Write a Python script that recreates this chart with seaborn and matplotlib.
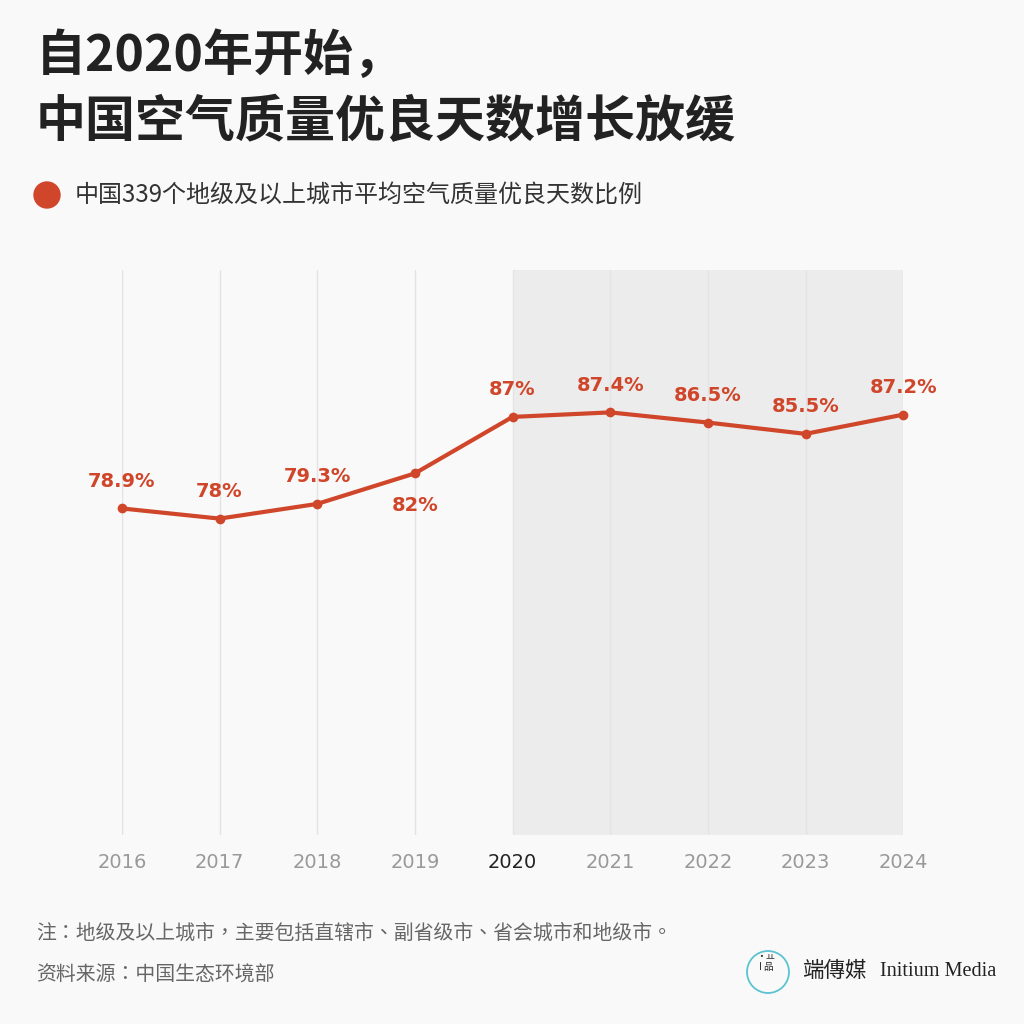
import pandas as pd
import seaborn as sns
import matplotlib.pyplot as plt
from matplotlib.patches import Circle

years = [2016, 2017, 2018, 2019, 2020, 2021, 2022, 2023, 2024]
ratio = [78.9, 78.0, 79.3, 82.0, 87.0, 87.4, 86.5, 85.5, 87.2]
labels = ["78.9%", "78%", "79.3%", "82%", "87%", "87.4%", "86.5%", "85.5%", "87.2%"]
below = [False, False, False, True, False, False, False, False, False]

df = pd.DataFrame({"year": years, "ratio": ratio})

sns.set_theme(style="white")
plt.rcParams["font.family"] = ["Noto Sans CJK SC", "DejaVu Sans"]

red = "#d0462a"
bg = "#f9f9f9"
tc = ["Noto Sans CJK TC", "DejaVu Sans"]

fig = plt.figure(figsize=(10.24, 10.24), dpi=100, facecolor=bg)
ax = fig.add_axes([0.119, 0.1846, 0.763, 0.5517])
ax.set_facecolor(bg)

# shaded period from 2020
ax.axvspan(2020, 2024, color="#ececec", zorder=0, lw=0)
for y in years:
    ax.axvline(y, color="#e3e3e3", lw=1, zorder=1)

sns.lineplot(data=df, x="year", y="ratio", color=red, lw=3, marker="o",
             markersize=7, markeredgewidth=0, ax=ax, zorder=3, clip_on=False)

for x, v, t, b in zip(years, ratio, labels, below):
    ax.annotate(t, (x, v), xytext=(0, -32 if b else 27), textcoords="offset pixels",
                ha="center", va="center", color=red, fontsize=14,
                fontweight="bold", family="DejaVu Sans")

ax.set_xlim(2016, 2024)
ax.set_ylim(50, 100)
ax.set_yticks([])
ax.set_xticks(years)
ax.set_xticklabels([str(y) for y in years], fontsize=14, family="DejaVu Sans")
for lab, y in zip(ax.get_xticklabels(), years):
    lab.set_color("#222222" if y == 2020 else "#999999")
ax.tick_params(axis="x", length=0, pad=13)
ax.set_xlabel("")
ax.set_ylabel("")
sns.despine(ax=ax, left=True, bottom=True)

# titles and legend
fig.text(0.035, 0.945, "自2020年开始，", fontsize=36, fontweight="bold",
         color="#222222", va="center")
fig.text(0.035, 0.880, "中国空气质量优良天数增长放缓", fontsize=36,
         fontweight="bold", color="#222222", va="center")
fig.patches.append(Circle((47 / 1024, 1 - 195 / 1024), 13 / 1024,
                          transform=fig.transFigure, color=red))
fig.text(0.073, 1 - 195 / 1024, "中国339个地级及以上城市平均空气质量优良天数比例",
         fontsize=17.3, color="#333333", va="center")

# footer
fig.text(0.035, 1 - 933 / 1024, "注：地级及以上城市，主要包括直辖市、副省级市、省会城市和地级市。",
         fontsize=14.3, color="#666666", va="center", family=tc)
fig.text(0.035, 1 - 975 / 1024, "资料来源：中国生态环境部",
         fontsize=14.3, color="#666666", va="center", family=tc)

# logo
fig.patches.append(Circle((768 / 1024, 1 - 972 / 1024), 21 / 1024,
                          transform=fig.transFigure, fill=False,
                          edgecolor="#5bc4d1", lw=1.3))
fig.text(766 / 1024, 1 - 962 / 1024, "•ㅛ\nI 品", fontsize=7, color="#222222",
         ha="center", va="center", family=tc, linespacing=0.9)
fig.text(802 / 1024, 1 - 971 / 1024, "端傳媒", fontsize=15.5, color="#222222",
         va="center", family=tc)
fig.text(880 / 1024, 1 - 971 / 1024, "Initium Media", fontsize=14.6,
         color="#222222", va="center", family=["Liberation Serif", "DejaVu Serif"])

fig.savefig("out.png", dpi=100, facecolor=bg)
